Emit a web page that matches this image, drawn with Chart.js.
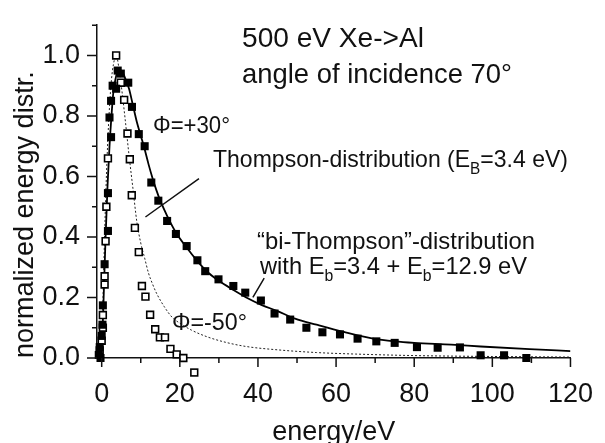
<!DOCTYPE html>
<html>
<head>
<meta charset="utf-8">
<script src="https://cdn.jsdelivr.net/npm/chart.js@4.4.1/dist/chart.umd.min.js"></script>
<style>
html, body { margin: 0; padding: 0; background: #fff; }
</style>
</head>
<body>
<canvas id="myChart" width="605" height="443"></canvas>
<script>
// measured points, phi = +30 deg (filled squares)
const plus30E = [-0.75, -0.3, -0.5, 0.0, 0.2, 0.3, 0.75, 1.6, 1.6, 2.0, 2.4, 2.4, 2.8, 3.7, 4.1, 4.9, 6.8, 7.75, 9.5, 11.0, 12.7, 14.5, 16.75, 19.0, 21.75, 24.5, 26.5, 29.9, 33.7, 36.75, 40.75, 44.25, 48.25, 52.4, 56.5, 61, 65.5, 70.3, 75, 80.7, 86, 91.7, 97, 103, 108.7];
const plus30V = [0.01, 0.0, 0.036, 0.073, 0.11, 0.174, 0.31, 0.42, 0.545, 0.795, 0.73, 0.85, 0.90, 0.89, 0.95, 0.94, 0.91, 0.83, 0.74, 0.70, 0.58, 0.52, 0.453, 0.41, 0.37, 0.323, 0.287, 0.26, 0.238, 0.216, 0.19, 0.147, 0.127, 0.10, 0.085, 0.078, 0.064, 0.055, 0.05, 0.036, 0.034, 0.035, 0.009, 0.009, 0.0];

// measured points, phi = -50 deg (open squares)
const minus50E = [-0.5, 0.0, 0.3, 0.3, 0.75, 0.75, 1.0, 1.2, 1.6, 3.7, 4.9, 5.75, 6.6, 7.2, 7.7, 8.5, 9.5, 10.3, 11.2, 12.4, 13.7, 14.9, 16.2, 17.6, 19.2, 20.9, 23.7];
const minus50V = [0.025, 0.057, 0.10, 0.142, 0.243, 0.27, 0.386, 0.50, 0.66, 1.0, 0.91, 0.853, 0.742, 0.657, 0.538, 0.43, 0.35, 0.238, 0.203, 0.143, 0.095, 0.068, 0.068, 0.03, 0.012, 0.0, -0.048];

// bi-Thompson fit (solid line)
const biThompsonE = [0, 0.5, 1, 1.5, 2, 2.5, 3, 3.5, 4.2, 5, 6, 7, 8, 9, 10, 11, 12, 13, 14, 15, 16.75, 19, 21.75, 24.5, 27, 30, 33.7, 37, 41, 45, 49.5, 55, 62, 69.5, 75, 80, 89.5, 97, 109.5, 120];
const biThompsonV = [0, 0.2, 0.4, 0.57, 0.7, 0.8, 0.88, 0.92, 0.95, 0.95, 0.925, 0.89, 0.835, 0.78, 0.735, 0.69, 0.64, 0.595, 0.555, 0.52, 0.47, 0.415, 0.365, 0.32, 0.285, 0.255, 0.225, 0.2, 0.175, 0.155, 0.13, 0.11, 0.086, 0.064, 0.055, 0.05, 0.044, 0.038, 0.029, 0.023];

// Thompson fit (dotted line)
const thompsonE = [0, 0.5, 1, 1.5, 2, 2.5, 3, 3.7, 4.5, 5.3, 6, 7, 8, 9, 10, 11, 12, 13, 14, 16, 18, 20, 23, 27, 32, 37, 45, 55, 65, 80, 100, 120];
const thompsonV = [0, 0.28, 0.52, 0.70, 0.83, 0.92, 0.97, 1.0, 0.95, 0.87, 0.79, 0.67, 0.56, 0.45, 0.38, 0.33, 0.28, 0.245, 0.215, 0.17, 0.135, 0.115, 0.092, 0.07, 0.051, 0.038, 0.027, 0.018, 0.013, 0.008, 0.005, 0.003];

const xTickLabels = [0, 20, 40, 60, 80, 100, 120];
const yTickLabels = ['0.0', '0.2', '0.4', '0.6', '0.8', '1.0'];

const FONT = "'Liberation Sans', Arial, sans-serif";
const INK = '#111';

function pts(xs, ys) {
    return xs.map((x, i) => ({x: x, y: ys[i]}));
}

// text made of pieces, [text, isSubscript], squeezed to a given width
function richText(ctx, parts, x, y, size, width) {
    const subSize = Math.round(size * 0.65);
    let natural = 0;
    parts.forEach(p => {
        ctx.font = (p[1] ? subSize : size) + 'px ' + FONT;
        natural += ctx.measureText(p[0]).width;
    });
    ctx.save();
    ctx.translate(x, y);
    ctx.scale(width ? width / natural : 1, 1);
    ctx.fillStyle = INK;
    ctx.textBaseline = 'alphabetic';
    let cx = 0;
    parts.forEach(p => {
        ctx.font = (p[1] ? subSize : size) + 'px ' + FONT;
        ctx.fillText(p[0], cx, p[1] ? size * 0.28 : 0);
        cx += ctx.measureText(p[0]).width;
    });
    ctx.restore();
}

const axisTicks = {
    id: 'axisTicks',
    afterDraw(chart) {
        const {ctx, scales: {x, y}} = chart;
        ctx.save();
        ctx.strokeStyle = INK;
        ctx.lineWidth = 1.5;
        ctx.beginPath();
        for (let v = 0; v <= 120; v += 10) {
            const px = x.getPixelForValue(v);
            ctx.moveTo(px, y.bottom);
            ctx.lineTo(px, y.bottom + (v % 20 === 0 ? 9 : 5));
        }
        for (let i = 0; i <= 11; i++) {
            const py = y.getPixelForValue(i / 10);
            ctx.moveTo(x.left, py);
            ctx.lineTo(x.left - (i % 2 === 0 ? 10 : 5), py);
        }
        ctx.stroke();
        ctx.restore();
    }
};

// chart.js skips points lying outside the plot area; the one open square
// below the axis is drawn here at the position the library computed for it
const strayPoints = {
    id: 'strayPoints',
    afterDraw(chart) {
        const {ctx, chartArea} = chart;
        const meta = chart.getDatasetMeta(1);
        ctx.save();
        ctx.strokeStyle = '#000';
        ctx.fillStyle = '#fff';
        ctx.lineWidth = 1.6;
        meta.data.forEach(el => {
            if (el.y > chartArea.bottom + 2) {
                const s = 4.8 * Math.SQRT1_2;
                ctx.fillRect(el.x - s, el.y - s, 2 * s, 2 * s);
                ctx.strokeRect(el.x - s, el.y - s, 2 * s, 2 * s);
            }
        });
        ctx.restore();
    }
};

const notes = {
    id: 'notes',
    afterDraw(chart) {
        const {ctx, scales: {x, y}} = chart;
        richText(ctx, [['500 eV Xe->Al']], 242, 47, 28, 182);
        richText(ctx, [['angle of incidence 70°']], 242, 83, 28, 270);
        richText(ctx, [['Φ=+30°']], 153, 133, 24, 77);
        richText(ctx, [['Thompson-distribution (E'], ['B', 1], ['=3.4 eV)']], 213, 167, 24, 355);
        richText(ctx, [['“bi-Thompson”-distribution']], 257, 249, 24, 278);
        richText(ctx, [['with E'], ['b', 1], ['=3.4 + E'], ['b', 1], ['=12.9 eV']], 260, 274, 24, 267);
        richText(ctx, [['Φ=-50°']], 172, 330, 24, 75);

        // pointer lines
        ctx.save();
        ctx.strokeStyle = INK;
        ctx.lineWidth = 1.5;
        ctx.beginPath();
        ctx.moveTo(x.getPixelForValue(24.9), y.getPixelForValue(0.593));
        ctx.lineTo(x.getPixelForValue(11.2), y.getPixelForValue(0.466));
        ctx.moveTo(x.getPixelForValue(41.6), y.getPixelForValue(0.264));
        ctx.lineTo(x.getPixelForValue(38.7), y.getPixelForValue(0.20));
        ctx.stroke();
        ctx.restore();
    }
};

const ctx = document.getElementById('myChart');

new Chart(ctx, {
    type: 'scatter',
    data: {
        datasets: [{
            label: 'Φ=+30°',
            data: pts(plus30E, plus30V),
            pointStyle: 'rect',
            pointRadius: 5.7,
            backgroundColor: '#000',
            borderColor: '#000',
            borderWidth: 0,
            clip: false,
            order: 0
        }, {
            label: 'Φ=-50°',
            data: pts(minus50E, minus50V),
            pointStyle: 'rect',
            pointRadius: 4.8,
            backgroundColor: '#fff',
            borderColor: '#000',
            borderWidth: 1.6,
            clip: false,
            order: 0
        }, {
            type: 'line',
            label: 'bi-Thompson',
            data: pts(biThompsonE, biThompsonV),
            borderColor: '#000',
            borderWidth: 1.8,
            pointRadius: 0,
            cubicInterpolationMode: 'monotone',
            order: 1
        }, {
            type: 'line',
            label: 'Thompson',
            data: pts(thompsonE, thompsonV),
            borderColor: '#222',
            borderWidth: 1,
            borderDash: [2, 2],
            pointRadius: 0,
            cubicInterpolationMode: 'monotone',
            order: 1
        }]
    },
    options: {
        responsive: false,
        animation: false,
        events: [],
        layout: {
            padding: {top: 14, right: 23, left: 0, bottom: 0}
        },
        plugins: {
            legend: {display: false},
            tooltip: {enabled: false}
        },
        scales: {
            x: {
                type: 'linear',
                min: -1.2,
                max: 120,
                afterFit(scale) { scale.height = 85; },
                border: {display: true, color: INK, width: 1.5},
                grid: {display: false},
                ticks: {
                    stepSize: 10,
                    includeBounds: false,
                    autoSkip: false,
                    maxRotation: 0,
                    padding: 12,
                    color: INK,
                    font: {family: FONT, size: 27},
                    callback: v => xTickLabels.includes(v) ? String(v) : null
                },
                title: {
                    display: true,
                    text: 'energy/eV',
                    color: INK,
                    font: {family: FONT, size: 27, lineHeight: 1},
                    padding: {top: 0, bottom: -3}
                }
            },
            y: {
                type: 'linear',
                min: 0,
                max: 1.1,
                afterFit(scale) { scale.width = 97; },
                border: {display: true, color: INK, width: 1.5},
                grid: {display: false},
                ticks: {
                    stepSize: 0.1,
                    autoSkip: false,
                    padding: 9,
                    color: INK,
                    font: {family: FONT, size: 27},
                    callback: v => {
                        const s = (Math.round(v * 10) / 10).toFixed(1);
                        return yTickLabels.includes(s) ? s : null;
                    }
                },
                title: {
                    display: true,
                    text: 'normalized energy distr.',
                    align: 'start',
                    color: INK,
                    font: {family: FONT, size: 27, lineHeight: 1},
                    padding: {top: 12, bottom: 0}
                }
            }
        }
    },
    plugins: [axisTicks, strayPoints, notes]
});
</script>
</body>
</html>
